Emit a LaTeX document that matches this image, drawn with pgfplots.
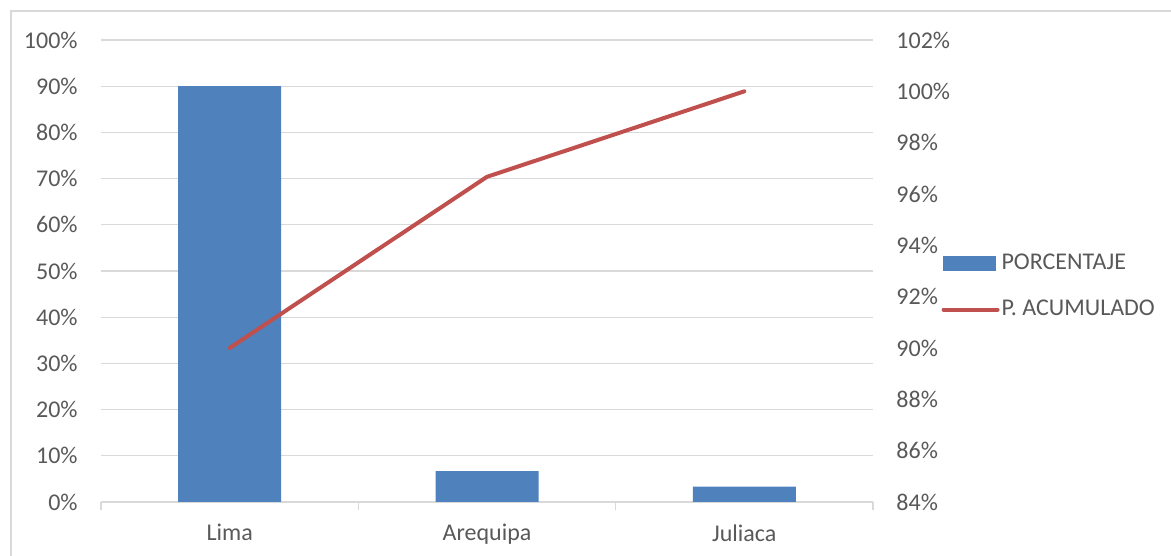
\documentclass[border=0pt]{standalone}
\usepackage{pgfplots}
\pgfplotsset{compat=1.18}
\usepackage{fontspec}
\setmainfont{Carlito}
\definecolor{barblue}{HTML}{4F81BD}
\definecolor{linered}{HTML}{C0504D}
\definecolor{txt}{HTML}{595959}
\definecolor{grd}{HTML}{D9D9D9}
\begin{document}
\begin{tikzpicture}
\useasboundingbox (0pt,0pt) rectangle (585.5pt,278pt);
\draw[grd, line width=0.8pt] (5.5pt,0pt) -- (5.5pt,272.5pt) -- (585.5pt,272.5pt);
\begin{axis}[
  at={(50.5pt,27pt)}, anchor=south west,
  scale only axis, width=386pt, height=231pt,
  xmin=-0.5, xmax=2.5, ymin=0, ymax=100,
  ytick={0,10,...,100},
  yticklabels={0\%,10\%,20\%,30\%,40\%,50\%,60\%,70\%,80\%,90\%,100\%},
  xtick={0,1,2}, xticklabels={Lima,Arequipa,Juliaca},
  minor xtick={-0.5,0.5,1.5,2.5},
  axis x line*=bottom, axis y line*=left,
  y axis line style={draw=none},
  x axis line style={grd, line width=0.8pt, -},
  major tick length=0pt, minor tick length=4pt,
  tick align=outside,
  minor tick style={grd, line width=0.8pt},
  ymajorgrids, grid style={grd, line width=0.6pt},
  tick label style={font=\fontsize{12}{14.4}\selectfont, text=txt},
  yticklabel style={inner sep=0pt, xshift=-11.5pt},
  xticklabel style={inner sep=0pt, yshift=-11pt},
  ybar, bar width=51.5pt,
  clip=false,
]
\addplot[fill=barblue, draw=none] coordinates {(0,90) (1,6.67) (2,3.33)};
\end{axis}
\begin{axis}[
  at={(50.5pt,27pt)}, anchor=south west,
  scale only axis, width=386pt, height=231pt,
  xmin=-0.5, xmax=2.5, ymin=84, ymax=102,
  ytick={84,86,...,102},
  yticklabels={84\%,86\%,88\%,90\%,92\%,94\%,96\%,98\%,100\%,102\%},
  axis x line=none, axis y line*=right,
  y axis line style={draw=none},
  major tick length=0pt,
  tick label style={font=\fontsize{12}{14.4}\selectfont, text=txt},
  yticklabel style={inner sep=0pt, xshift=11.5pt},
  legend style={draw=none, fill=none, at={(1.0805,0.467)}, anchor=west,
    font=\fontsize{12}{14.4}\selectfont, text=txt, row sep=12pt,
    nodes={inner sep=1pt}},
  legend cell align=left,
  clip=false,
]
\addlegendimage{legend image code/.code={\fill[barblue] (0pt,-3.5pt) rectangle (26pt,3.5pt);}}
\addlegendentry{PORCENTAJE}
\addplot[linered, line width=2pt, line cap=round, mark=none,
  legend image code/.code={\draw[linered, line width=2pt, line cap=round] (0pt,0pt) -- (27pt,0pt);}]
  coordinates {(0,90) (1,96.67) (2,100)};
\addlegendentry{P. ACUMULADO}
\end{axis}
\end{tikzpicture}
\end{document}
